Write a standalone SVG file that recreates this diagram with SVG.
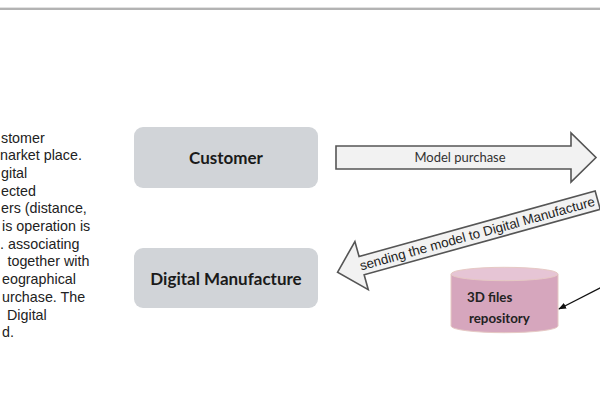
<svg xmlns="http://www.w3.org/2000/svg" width="600" height="400" viewBox="0 0 600 400">
<style>
.box{fill:#d1d4d8}
.lbl{font-family:Lato,"Liberation Sans",sans-serif;font-weight:bold;font-size:17px;fill:#1a1a1a;text-anchor:middle}
.body{font-family:"Liberation Sans",Arial,sans-serif;font-size:14.3px;fill:#222}
.arr{fill:#f2f2f2;stroke:#555;stroke-width:1.6}
.alab{font-family:Lato,"Liberation Sans",sans-serif;font-size:13px;fill:#333;text-anchor:middle}
.alab2{font-family:"Liberation Sans",Arial,sans-serif;font-size:13.4px;fill:#222;text-anchor:middle}
.cyl{fill:#d6a6bd;stroke:#e6c9c4;stroke-width:1}
.cyltxt{font-family:Lato,"Liberation Sans",sans-serif;font-weight:bold;font-size:13.3px;fill:#222}
</style>
<defs>
<marker id="ah" viewBox="0 0 10 10" refX="9" refY="5" markerWidth="6" markerHeight="6" orient="auto">
<path d="M0,1 L10,5 L0,9 z" fill="#111"/>
</marker>
</defs>
<rect width="600" height="400" fill="#ffffff"/>
<rect x="0" y="7" width="600" height="1" fill="#e2e2e2"/>
<rect x="0" y="8" width="600" height="2" fill="#b3b3b3"/>

<g id="description">
<text class="body" x="1" y="142.5">stomer</text>
<text class="body" x="0" y="160.2">narket place.</text>
<text class="body" x="1" y="177.9">gital</text>
<text class="body" x="1" y="195.6">ected</text>
<text class="body" x="1" y="213.3">ers (distance,</text>
<text class="body" x="2" y="231">is operation is</text>
<text class="body" x="0" y="248.7">. associating</text>
<text class="body" x="7.5" y="266.4">together with</text>
<text class="body" x="2" y="284.1">eographical</text>
<text class="body" x="2" y="301.8">urchase. The</text>
<text class="body" x="7" y="319.5">Digital</text>
<text class="body" x="2" y="337.2">d.</text>
</g>

<g id="customer">
<rect class="box" x="134" y="127" width="184" height="61" rx="9"/>
<text class="lbl" x="226" y="164">Customer</text>
</g>

<g id="digital-manufacture">
<rect class="box" x="134" y="248" width="184" height="60" rx="9"/>
<text class="lbl" x="226" y="285">Digital Manufacture</text>
</g>

<g id="repository">
<path class="cyl" d="M451,274 L451,326 A53.5,6.7 0 0 0 558,326 L558,274"/>
<ellipse cx="504.5" cy="274" rx="53.5" ry="6.7" fill="#e6c5d5" stroke="#e6c9c4" stroke-width="1"/>
<text class="cyltxt" x="467" y="302">3D files</text>
<text class="cyltxt" x="469" y="323">repository</text>
</g>

<g id="connectors">
<g id="model-purchase">
<polygon class="arr" points="336,146 571,146 571,133 596,157.5 571,182 571,169 336,169"/>
<text class="alab" x="460" y="162">Model purchase</text>
</g>
<g id="sending-model" transform="translate(337.5,272.3) rotate(-15.5)">
<polygon class="arr" points="0,0 25,-25 25,-9.5 270,-9.5 270,9.5 25,9.5 25,25"/>
<text class="alab2" x="145" y="4.6">sending the model to Digital Manufacture</text>
</g>
<line x1="602" y1="287" x2="559" y2="309" stroke="#111" stroke-width="1.3" marker-end="url(#ah)"/>
</g>
</svg>
